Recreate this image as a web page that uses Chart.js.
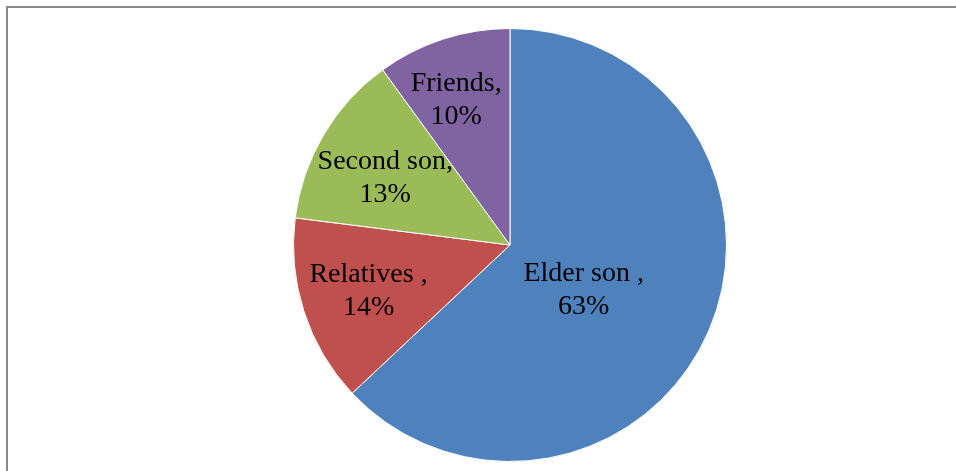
<!DOCTYPE html>
<html>
<head>
<meta charset="utf-8">
<script src="https://cdn.jsdelivr.net/npm/chart.js@4.4.1/dist/chart.umd.min.js"></script>
<style>
  html, body { margin: 0; padding: 0; background: #fff; }
  #wrap { width: 956px; height: 471px; position: relative; }
</style>
</head>
<body>
<div id="wrap"><canvas id="chartPie" width="956" height="471"></canvas></div>
<script>
  const categories = ["Elder son ,", "Relatives ,", "Second son,", "Friends,"];
  const shares = [63, 14, 13, 10];
  const sliceColors = ["#4F81BD", "#C0504D", "#9BBB59", "#8064A2"];

  // label placement: fraction of radius and angle nudge (degrees) from slice middle
  const labelRadius = [0.40, 0.687, 0.654, 0.713];
  const labelNudge = [8.3, 0, -2.4, -2.4];

  const frame = {
    id: "frame",
    beforeDraw(chart) {
      const ctx = chart.ctx;
      ctx.save();
      ctx.fillStyle = "#fff";
      ctx.fillRect(0, 0, chart.width, chart.height);
      ctx.strokeStyle = "#878787";
      ctx.lineWidth = 2;
      ctx.beginPath();
      ctx.moveTo(7, chart.height);
      ctx.lineTo(7, 7);
      ctx.lineTo(chart.width, 7);
      ctx.stroke();
      ctx.restore();
    }
  };

  const sliceLabels = {
    id: "sliceLabels",
    afterDatasetsDraw(chart) {
      const ctx = chart.ctx;
      const meta = chart.getDatasetMeta(0);
      ctx.save();
      ctx.fillStyle = "#000";
      ctx.font = "28px 'Liberation Serif', 'Times New Roman', serif";
      ctx.textAlign = "center";
      ctx.textBaseline = "middle";
      meta.data.forEach((arc, i) => {
        const p = arc.getProps(["x", "y", "startAngle", "endAngle", "outerRadius"], true);
        const mid = (p.startAngle + p.endAngle) / 2 + labelNudge[i] * Math.PI / 180;
        const r = p.outerRadius * labelRadius[i];
        const x = p.x + Math.cos(mid) * r;
        const y = p.y + Math.sin(mid) * r;
        ctx.fillText(categories[i], x, y - 16.5);
        ctx.fillText(shares[i] + "%", x, y + 16.5);
      });
      ctx.restore();
    }
  };

  new Chart(document.getElementById("chartPie"), {
    type: "pie",
    data: {
      labels: categories,
      datasets: [{
        data: shares,
        backgroundColor: sliceColors,
        borderColor: "#fff",
        borderWidth: 1
      }]
    },
    options: {
      responsive: false,
      animation: false,
      layout: { padding: { left: 293, right: 229, top: 28, bottom: 9 } },
      plugins: { legend: { display: false }, tooltip: { enabled: false } }
    },
    plugins: [frame, sliceLabels]
  });
</script>
</body>
</html>
